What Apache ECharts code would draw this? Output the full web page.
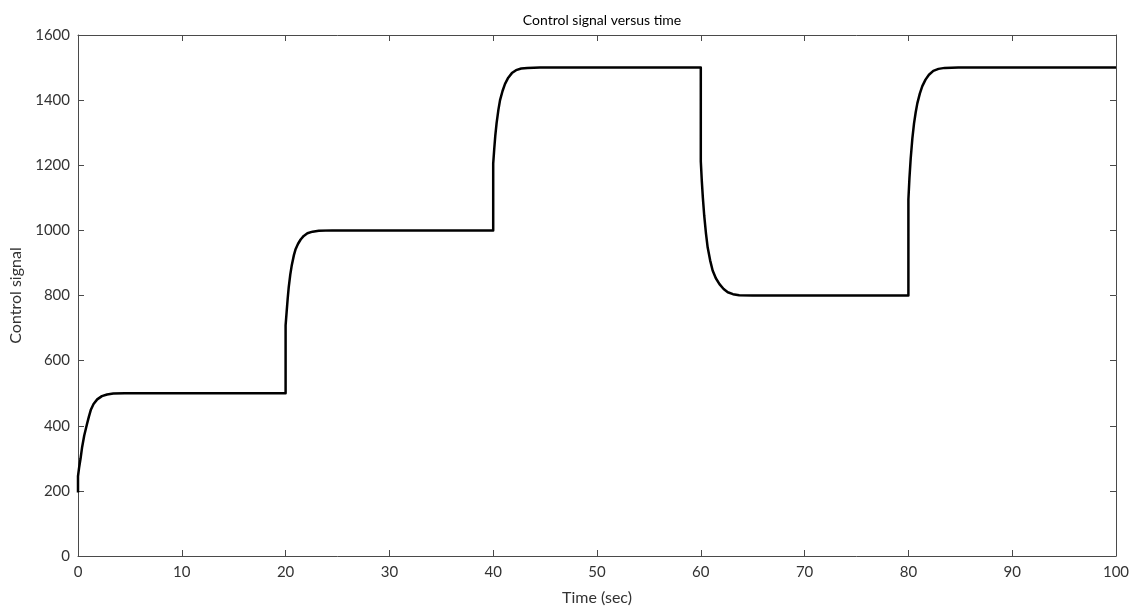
<!DOCTYPE html>
<html>
<head>
<meta charset="utf-8">
<script src="https://cdn.jsdelivr.net/npm/echarts@6/dist/echarts.min.js"></script>
<style>
  html, body { margin: 0; padding: 0; background: #fff; }
  #chart { width: 1135px; height: 611px; }
</style>
</head>
<body>
<div id="chart"></div>
<script>
// time (sec) and control signal
const timeSec = [
  0, 0, 0.1, 0.25, 0.4, 0.6, 0.85, 1.05, 1.25, 1.5, 1.85, 2.3, 2.8, 3.4, 4.5,
  20, 20, 20.1, 20.2, 20.3, 20.45, 20.6, 20.8, 20.95, 21.2, 21.45, 21.75, 22.1, 22.6, 23.2, 24.5,
  40, 40, 40.1, 40.2, 40.33, 40.5, 40.66, 40.9, 41.14, 41.45, 41.8, 42.2, 42.7, 43.3, 44.5,
  60, 60, 60.1, 60.2, 60.33, 60.5, 60.66, 60.9, 61.14, 61.45, 61.8, 62.2, 62.6, 63.1, 63.7, 65,
  80, 80, 80.1, 80.22, 80.38, 80.54, 80.7, 80.86, 81.1, 81.34, 81.65, 81.98, 82.4, 82.9, 83.5, 84.8,
  100
];
const controlSignal = [
  195, 245, 270, 300, 335, 370, 403, 428, 450, 467, 481, 491, 496, 499, 500,
  500, 708, 750, 790, 825, 864, 894, 924, 941, 959, 972, 983, 991, 996, 999, 1000,
  1000, 1205, 1250, 1290, 1330, 1370, 1400, 1428, 1450, 1469, 1483, 1492, 1497, 1499, 1500,
  1500, 1212, 1150, 1100, 1045, 990, 948, 908, 877, 853, 835, 820, 810, 804, 801, 800,
  800, 1095, 1160, 1220, 1282, 1328, 1362, 1390, 1420, 1443, 1463, 1478, 1490, 1496, 1499, 1500,
  1500
];
const xTicks = [0, 10, 20, 30, 40, 50, 60, 70, 80, 90, 100];
const yTicks = [0, 200, 400, 600, 800, 1000, 1200, 1400, 1600];

const font = 'Lato, "Open Sans", sans-serif';
const axisColor = '#4a4a4a';
const labelColor = '#333333';

const chart = echarts.init(document.getElementById('chart'));

const baseX = {
  type: 'value',
  min: xTicks[0],
  max: xTicks[xTicks.length - 1],
  interval: xTicks[1] - xTicks[0],
  axisLine: { show: true, onZero: false, lineStyle: { color: axisColor, width: 1 } },
  axisTick: { show: true, inside: true, length: 6, lineStyle: { color: axisColor } },
  splitLine: { show: false },
};
const baseY = {
  type: 'value',
  min: yTicks[0],
  max: yTicks[yTicks.length - 1],
  interval: yTicks[1] - yTicks[0],
  axisLine: { show: true, onZero: false, lineStyle: { color: axisColor, width: 1 } },
  axisTick: { show: true, inside: true, length: 6, lineStyle: { color: axisColor } },
  splitLine: { show: false },
};

chart.setOption({
  animation: false,
  backgroundColor: '#fff',
  title: {
    text: 'Control signal versus time',
    left: 597,
    textAlign: 'center',
    top: 8,
    textStyle: { fontFamily: font, fontSize: 14, fontWeight: 'normal', color: '#000' },
  },
  grid: { left: 78, right: 19, top: 35, bottom: 55 },
  xAxis: [
    {
      ...baseX,
      position: 'bottom',
      name: 'Time (sec)',
      nameLocation: 'middle',
      nameGap: 34,
      nameTextStyle: { fontFamily: font, fontSize: 16, color: labelColor },
      axisLabel: { fontFamily: font, fontSize: 15, color: labelColor, margin: 9 },
    },
    { ...baseX, position: 'top', axisLabel: { show: false } },
  ],
  yAxis: [
    {
      ...baseY,
      position: 'left',
      name: 'Control signal',
      nameLocation: 'middle',
      nameGap: 54,
      nameTextStyle: { fontFamily: font, fontSize: 16, color: labelColor },
      axisLabel: {
        fontFamily: font, fontSize: 15, color: labelColor, margin: 8,
        formatter: (v) => String(v),
      },
    },
    { ...baseY, position: 'right', axisLabel: { show: false } },
  ],
  series: [{
    type: 'line',
    data: timeSec.map((t, i) => [t, controlSignal[i]]),
    showSymbol: false,
    smooth: false,
    lineStyle: { color: '#000', width: 2.5, join: 'round' },
  }],
});
</script>
</body>
</html>
